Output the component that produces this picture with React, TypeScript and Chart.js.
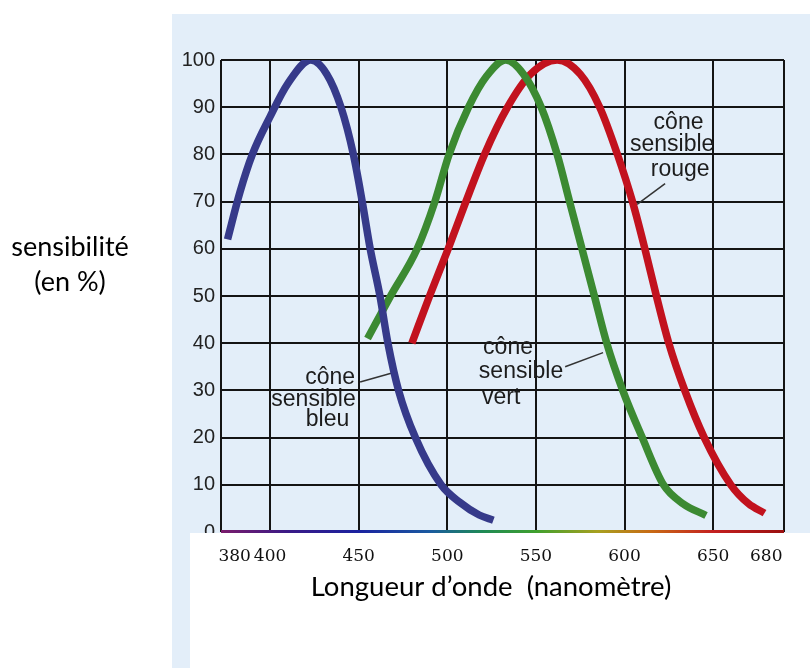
import { useEffect, useRef } from "react";
import { Chart, registerables } from "chart.js";

Chart.register(...registerables);

// ---- data ----
const wavelengthTickLabels = [380, 400, 450, 500, 550, 600, 650, 680];
const gridWavelengths = [400, 450, 500, 550, 600, 650];
const sensitivityTicks = [0, 10, 20, 30, 40, 50, 60, 70, 80, 90, 100];
const X_MIN = 372.3;
const X_MAX = 690;

const blueNm = [376, 383, 390, 400, 410, 423, 432, 440, 447, 452, 456.5, 462, 466.5, 472.5, 482, 496.5, 507, 518, 526];
const blueVal = [62, 72, 80, 88, 95, 100, 97, 90, 80, 70, 60, 50, 40, 30, 20, 10, 6.3, 3.6, 2.5];

const greenNm = [455, 468, 483, 493, 501, 512, 522, 533, 543, 553, 562, 569, 576, 583, 590, 599, 610, 622, 633, 646];
const greenVal = [41, 50, 60, 70, 80, 90, 96.5, 100, 97, 90, 80, 70, 60, 50, 40, 30, 20, 10, 6, 3.5];

const redNm = [480, 490, 500.5, 510.5, 521, 534, 547, 562, 575, 586, 596, 604.5, 611.5, 618, 625, 634, 645, 660, 670, 679];
const redVal = [40, 50, 60, 70, 80, 90, 97, 100, 97, 90, 80, 70, 60, 50, 40, 30, 20, 10, 6, 4];

const annotationTexts = [
  { text: "cône", nm: 630.5, val: 86.7, align: "center" },
  { text: "sensible", nm: 626.9, val: 82.1, align: "center" },
  { text: "rouge", nm: 631.4, val: 76.8, align: "center" },
  { text: "cône", nm: 520.2, val: 39.0, align: "left" },
  { text: "sensible", nm: 517.8, val: 33.9, align: "left" },
  { text: "vert", nm: 519.6, val: 28.4, align: "left" },
  { text: "cône", nm: 433.9, val: 32.7, align: "center" },
  { text: "sensible", nm: 424.5, val: 28.0, align: "center" },
  { text: "bleu", nm: 432.4, val: 23.8, align: "center" },
];
const leaderLines = [
  { nm1: 622.9, val1: 73.8, nm2: 607.1, val2: 69.4 },
  { nm1: 566.5, val1: 35.0, nm2: 587.9, val2: 38.0 },
  { nm1: 450.8, val1: 31.8, nm2: 468.8, val2: 33.7 },
];
const spectrumStops = [
  { nm: 372, color: "#7a1c6c" },
  { nm: 410, color: "#3a1a86" },
  { nm: 450, color: "#1a22a0" },
  { nm: 490, color: "#1a5aa0" },
  { nm: 520, color: "#1f8a55" },
  { nm: 550, color: "#3fa02e" },
  { nm: 585, color: "#a8a020" },
  { nm: 615, color: "#c86a14" },
  { nm: 650, color: "#c42020" },
  { nm: 690, color: "#9a1010" },
];

const xTitle = "Longueur d’onde  (nanomètre)";
const yTitleLines = ["sensibilité", "(en %)"];

const decorPlugin = {
  id: "decor",
  beforeDatasetsDraw(chart: any) {
    const { ctx } = chart;
    const xs = chart.scales.x;
    const ys = chart.scales.y;
    ctx.save();
    ctx.strokeStyle = "#333";
    ctx.lineWidth = 1.5;
    for (const l of leaderLines) {
      ctx.beginPath();
      ctx.moveTo(xs.getPixelForValue(l.nm1), ys.getPixelForValue(l.val1));
      ctx.lineTo(xs.getPixelForValue(l.nm2), ys.getPixelForValue(l.val2));
      ctx.stroke();
    }
    ctx.fillStyle = "#1c1c1c";
    ctx.font = '23px "Liberation Sans"';
    ctx.textBaseline = "middle";
    for (const a of annotationTexts) {
      ctx.textAlign = a.align as CanvasTextAlign;
      ctx.fillText(a.text, xs.getPixelForValue(a.nm), ys.getPixelForValue(a.val));
    }
    ctx.restore();
  },
  afterDatasetsDraw(chart: any) {
    const { ctx, chartArea } = chart;
    const xs = chart.scales.x;
    ctx.save();
    // white label area under the plot
    ctx.fillStyle = "#ffffff";
    ctx.fillRect(190, chartArea.bottom + 1, chart.width - 190, chart.height - chartArea.bottom - 1);
    // spectrum-coloured baseline
    const g = ctx.createLinearGradient(chartArea.left, 0, chartArea.right, 0);
    for (const s of spectrumStops) {
      const p = (xs.getPixelForValue(s.nm) - chartArea.left) / (chartArea.right - chartArea.left);
      g.addColorStop(Math.min(1, Math.max(0, p)), s.color);
    }
    ctx.strokeStyle = g;
    ctx.lineWidth = 3;
    ctx.beginPath();
    ctx.moveTo(chartArea.left, chartArea.bottom - 0.5);
    ctx.lineTo(chartArea.right, chartArea.bottom - 0.5);
    ctx.stroke();
    ctx.restore();
  },
  afterDraw(chart: any) {
    const { ctx } = chart;
    ctx.save();
    ctx.fillStyle = "#000";
    ctx.font = "27.5px Lato";
    ctx.textAlign = "center";
    ctx.textBaseline = "middle";
    ctx.fillText(xTitle, 491, 587);
    ctx.font = "27px Lato";
    ctx.fillText(yTitleLines[0], 70, 247);
    ctx.fillText(yTitleLines[1], 70, 282);
    ctx.restore();
  },
};

export default function App() {
  const ref = useRef<HTMLCanvasElement>(null);
  useEffect(() => {
    const canvas = ref.current!;
    const mk = (nm: number[], val: number[]) => nm.map((x, i) => ({ x, y: val[i] }));
    const common = {
      borderWidth: 7.5,
      pointRadius: 0,
      fill: false,
      cubicInterpolationMode: "monotone" as const,
      xAxisID: "x",
      yAxisID: "y",
    };
    const chart = new Chart(canvas, {
      type: "line",
      data: {
        datasets: [
          { ...common, label: "cône sensible bleu", data: mk(blueNm, blueVal), borderColor: "#363a8a" },
          { ...common, label: "cône sensible vert", data: mk(greenNm, greenVal), borderColor: "#3c8a32" },
          { ...common, label: "cône sensible rouge", data: mk(redNm, redVal), borderColor: "#c2121e" },
        ],
      },
      options: {
        animation: false,
        responsive: false,
        layout: { padding: { top: 60, right: 26, left: 0, bottom: 0 } },
        plugins: { legend: { display: false }, tooltip: { enabled: false } },
        scales: {
          x: {
            type: "linear",
            min: X_MIN,
            max: X_MAX,
            position: "bottom",
            afterBuildTicks: (s: any) => {
              s.ticks = [X_MIN, ...gridWavelengths, X_MAX].map((v) => ({ value: v }));
            },
            ticks: { display: false },
            grid: { color: "#141414", lineWidth: 2, drawTicks: false },
            border: { display: false },
            afterFit: (s: any) => {
              s.height = 0;
            },
          },
          x2: {
            type: "linear",
            min: X_MIN,
            max: X_MAX,
            position: "bottom",
            afterBuildTicks: (s: any) => {
              s.ticks = wavelengthTickLabels.map((v) => ({ value: v }));
            },
            ticks: {
              z: 1,
              autoSkip: false,
              maxRotation: 0,
              padding: 14,
              color: "#111",
              font: { family: "DejaVu Serif", size: 17 },
              callback: (v: any) => String(v),
            },
            grid: { display: false, drawTicks: false, z: 1 },
            border: { display: false },
            afterFit: (s: any) => {
              s.height = 136;
            },
          },
          y: {
            type: "linear",
            min: 0,
            max: 100,
            afterBuildTicks: (s: any) => {
              s.ticks = sensitivityTicks.map((v) => ({ value: v }));
            },
            ticks: {
              padding: 6,
              color: "#222",
              font: { family: "Liberation Sans", size: 20 },
              callback: (v: any) => String(v),
            },
            grid: { color: "#141414", lineWidth: 2, drawTicks: false },
            border: { display: false },
            afterFit: (s: any) => {
              s.width = 221;
            },
          },
        },
      } as any,
      plugins: [decorPlugin],
    });
    return () => chart.destroy();
  }, []);

  return (
    <div style={{ position: "absolute", left: 0, top: 0, width: 810, height: 668, background: "#ffffff" }}>
      <div style={{ position: "absolute", left: 172, top: 14, width: 638, height: 654, background: "#e3eef9" }} />
      <canvas ref={ref} width={810} height={668} style={{ position: "absolute", left: 0, top: 0, width: 810, height: 668 }} />
    </div>
  );
}
